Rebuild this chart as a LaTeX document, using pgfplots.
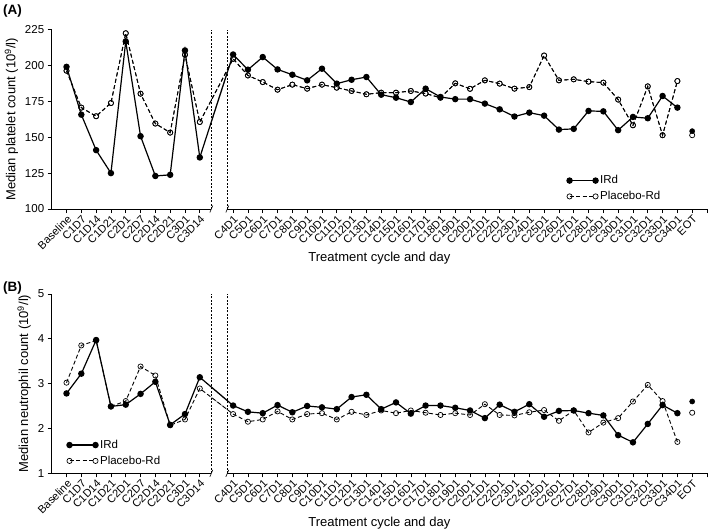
\documentclass[border=0pt]{standalone}
\usepackage{pgfplots}
\usepackage{pgfplotstable}
\pgfplotsset{compat=1.18}
\usepackage{fontspec}
\setmainfont{Liberation Sans}

\pgfplotstableread{
x y
0 199
1 165.7
2 141
3 125
4 216.7
5 150.7
6 123
7 123.8
8 210.4
9 135.9
11.25 207.6
12.25 197
13.25 205.8
14.25 197.2
15.25 193.5
16.25 189.6
17.25 197.7
18.25 187.3
19.25 190
20.25 191.9
21.25 179.6
22.25 177.5
23.25 174.5
24.25 183.8
25.25 178
26.25 176.5
27.25 176.5
28.25 173.4
29.25 169.4
30.25 164.4
31.25 167.1
32.25 165
33.25 155.3
34.25 155.8
35.25 168.3
36.25 168
37.25 154.9
38.25 164.1
39.25 163.2
40.25 178.7
41.25 170.6
}\plateletIRd

\pgfplotstableread{
x y
0 196.3
1 170.6
2 164.6
3 173.8
4 222.4
5 180.3
6 159.5
7 153.2
8 207.4
9 160.6
11.25 204.6
12.25 193
13.25 188.4
14.25 183.1
15.25 186.6
16.25 183.8
17.25 186.6
18.25 184.5
19.25 182.2
20.25 179.9
21.25 181
22.25 181
23.25 182.2
24.25 180.4
25.25 177.5
26.25 187.5
27.25 183.7
28.25 189.6
29.25 187.3
30.25 183.8
31.25 184.9
32.25 206.9
33.25 189.6
34.25 190.3
35.25 188.7
36.25 188
37.25 176.2
38.25 158.3
39.25 185.4
40.25 151.4
41.25 189.1
}\plateletPlacebo

\pgfplotstableread{
x y
0 2.78
1 3.22
2 3.97
3 2.49
4 2.53
5 2.77
6 3.04
7 2.08
8 2.32
9 3.14
11.25 2.51
12.25 2.37
13.25 2.34
14.25 2.52
15.25 2.36
16.25 2.50
17.25 2.47
18.25 2.43
19.25 2.70
20.25 2.75
21.25 2.43
22.25 2.58
23.25 2.33
24.25 2.51
25.25 2.51
26.25 2.46
27.25 2.40
28.25 2.23
29.25 2.53
30.25 2.37
31.25 2.54
32.25 2.26
33.25 2.39
34.25 2.40
35.25 2.34
36.25 2.29
37.25 1.85
38.25 1.69
39.25 2.10
40.25 2.52
41.25 2.34
}\neutroIRd

\pgfplotstableread{
x y
0 3.02
1 3.85
2 3.96
3 2.49
4 2.61
5 3.38
6 3.18
7 2.07
8 2.20
9 2.89
11.25 2.32
12.25 2.15
13.25 2.20
14.25 2.38
15.25 2.20
16.25 2.32
17.25 2.34
18.25 2.20
19.25 2.37
20.25 2.30
21.25 2.40
22.25 2.34
23.25 2.40
24.25 2.35
25.25 2.30
26.25 2.34
27.25 2.30
28.25 2.54
29.25 2.30
30.25 2.29
31.25 2.36
32.25 2.41
33.25 2.17
34.25 2.40
35.25 1.91
36.25 2.13
37.25 2.23
38.25 2.60
39.25 2.97
40.25 2.61
41.25 1.70
}\neutroPlacebo

\newcommand{\tickfont}{\fontsize{11}{12}\selectfont}
\newcommand{\legfont}{\fontsize{11.5}{13}\selectfont}
\newcommand{\labfont}{\fontsize{13}{15}\selectfont}

\pgfplotsset{
  panel/.style={
    scale only axis, width=655.3pt, height=179.5pt,
    anchor=south west,
    xmin=-1, xmax=43.25,
    clip=false,
    axis x line*=bottom, axis y line*=left,
    axis line style={-, line width=0.6pt},
    x axis line style={draw=none},
    tick align=outside, major tick length=4pt,
    tick style={black, line width=0.6pt},
    xtick={0,1,2,3,4,5,6,7,8,9,11.25,12.25,13.25,14.25,15.25,16.25,17.25,18.25,19.25,20.25,21.25,22.25,23.25,24.25,25.25,26.25,27.25,28.25,29.25,30.25,31.25,32.25,33.25,34.25,35.25,36.25,37.25,38.25,39.25,40.25,41.25,42.25},
    xticklabels={Baseline,C1D7,C1D14,C1D21,C2D1,C2D7,C2D14,C2D21,C3D1,C3D14,C4D1,C5D1,C6D1,C7D1,C8D1,C9D1,C10D1,C11D1,C12D1,C13D1,C14D1,C15D1,C16D1,C17D1,C18D1,C19D1,C20D1,C21D1,C22D1,C23D1,C24D1,C25D1,C26D1,C27D1,C28D1,C29D1,C30D1,C31D1,C32D1,C33D1,C34D1,EOT},
    extra x ticks={43.25}, extra x tick labels={},
    xticklabel style={rotate=45, anchor=north east, font=\tickfont, inner sep=1pt},
    yticklabel style={font=\legfont},
    /pgf/number format/assume math mode=true,
    xlabel={Treatment cycle and day},
    every axis x label/.style={at={(axis description cs:0.5,0)}, anchor=center, yshift=-49.5pt, font=\labfont},
    ylabel style={font=\labfont},
    legend image code/.code={\draw[mark repeat=1, mark phase=1, #1] plot coordinates {(0pt,0pt) (26pt,0pt)};},
    legend cell align=left,
    legend style={draw=none, fill=none, font=\legfont, inner sep=0pt, row sep=2pt},
    irdline/.style={black, line width=1.2pt, mark=*, mark size=2.6pt, mark options={solid, fill=black}},
    plcline/.style={black, line width=0.9pt, dash pattern=on 4pt off 2.5pt, mark=o, mark size=2.6pt, mark options={solid, fill=white, line width=0.7pt}},
  }
}

\begin{document}
\begin{tikzpicture}
\path[use as bounding box] (0pt,0pt) rectangle (709pt,-530pt);
\node[anchor=west, font=\bfseries\fontsize{13.5}{15}\selectfont, inner sep=0pt] at (3pt,-11pt) {(A)};
\node[anchor=west, font=\bfseries\fontsize{13.5}{15}\selectfont, inner sep=0pt] at (3pt,-288.5pt) {(B)};

% ---------- Panel A ----------
\begin{axis}[panel, at={(51.7pt,-209pt)},
  ymin=100, ymax=225, ytick={100,125,150,175,200,225},
  ylabel={Median platelet count (10\textsuperscript{9}/l)},
  legend style={at={(0.786,0.198)}, anchor=north west}]
\begin{scope}
\clip (axis cs:9.78,100) rectangle (axis cs:10.86,225);
\addplot[black!35, line width=1.2pt, forget plot] coordinates {(9,135.9) (11.25,207.6)};
\addplot[black!35, line width=0.9pt, dash pattern=on 4pt off 2.5pt, forget plot] coordinates {(9,160.6) (11.25,204.6)};
\end{scope}
\addplot[plcline, forget plot] table[x=x,y=y] {\plateletPlacebo};
\addplot[irdline] table[x=x,y=y] {\plateletIRd};
\addlegendentry{IRd}
\addplot[plcline] table[x=x,y=y] {\plateletPlacebo};
\addlegendentry{Placebo-Rd}
\addplot[only marks, mark=o, mark size=2.6pt, mark options={fill=white, line width=0.7pt}, forget plot] coordinates {(42.25,151.4)};
\addplot[only marks, mark=*, mark size=2.6pt, mark options={fill=black}, forget plot] coordinates {(42.25,154.2)};
\draw[line width=0.6pt] (axis cs:-1,100) -- (axis cs:9.78,100);
\draw[line width=0.6pt] (axis cs:10.86,100) -- (axis cs:43.25,100);
\draw[line width=0.6pt] ([xshift=-1.5pt,yshift=-3.5pt]axis cs:9.78,100) -- ++(3pt,7pt);
\draw[line width=0.6pt] ([xshift=-1.5pt,yshift=-3.5pt]axis cs:10.86,100) -- ++(3pt,7pt);
\draw[line width=0.5pt, dash pattern=on 2pt off 1.5pt] (axis cs:9.78,100) -- (axis cs:9.78,225);
\draw[line width=0.5pt, dash pattern=on 2pt off 1.5pt] (axis cs:10.86,100) -- (axis cs:10.86,225);
\end{axis}

% ---------- Panel B ----------
\begin{axis}[panel, at={(51.7pt,-473.3pt)},
  ymin=1, ymax=5, ytick={1,2,3,4,5},
  ylabel={Median neutrophil count (10\textsuperscript{9}/l)},
  legend style={at={(0.0229,0.197)}, anchor=north west}]
\begin{scope}
\clip (axis cs:9.78,1) rectangle (axis cs:10.86,5);
\addplot[black!35, line width=1.2pt, forget plot] coordinates {(9,3.14) (11.25,2.51)};
\addplot[black!35, line width=0.9pt, dash pattern=on 4pt off 2.5pt, forget plot] coordinates {(9,2.89) (11.25,2.32)};
\end{scope}
\addplot[irdline] table[x=x,y=y] {\neutroIRd};
\addlegendentry{IRd}
\addplot[plcline] table[x=x,y=y] {\neutroPlacebo};
\addlegendentry{Placebo-Rd}
\addplot[only marks, mark=o, mark size=2.6pt, mark options={fill=white, line width=0.7pt}, forget plot] coordinates {(42.25,2.35)};
\addplot[only marks, mark=*, mark size=2.6pt, mark options={fill=black}, forget plot] coordinates {(42.25,2.60)};
\draw[line width=0.6pt] (axis cs:-1,1) -- (axis cs:9.78,1);
\draw[line width=0.6pt] (axis cs:10.86,1) -- (axis cs:43.25,1);
\draw[line width=0.6pt] ([xshift=-1.5pt,yshift=-3.5pt]axis cs:9.78,1) -- ++(3pt,7pt);
\draw[line width=0.6pt] ([xshift=-1.5pt,yshift=-3.5pt]axis cs:10.86,1) -- ++(3pt,7pt);
\draw[line width=0.5pt, dash pattern=on 2pt off 1.5pt] (axis cs:9.78,1) -- (axis cs:9.78,5);
\draw[line width=0.5pt, dash pattern=on 2pt off 1.5pt] (axis cs:10.86,1) -- (axis cs:10.86,5);
\end{axis}
\end{tikzpicture}
\end{document}
